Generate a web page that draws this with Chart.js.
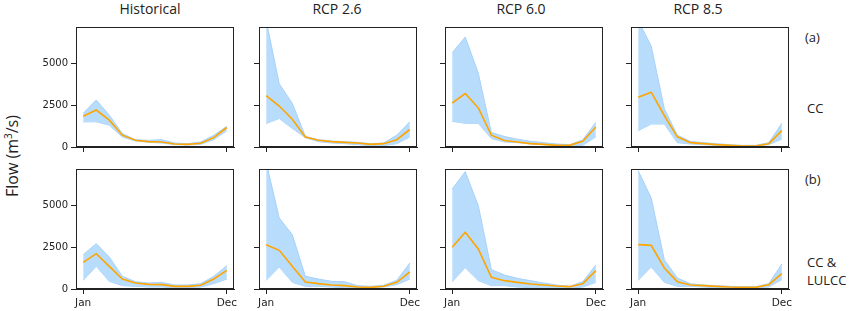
<!DOCTYPE html>
<html>
<head>
<meta charset="utf-8">
<script src="https://cdn.jsdelivr.net/npm/chart.js@4.4.1/dist/chart.umd.min.js"></script>
<style>
  body { margin: 0; background: #fff; width: 849px; height: 311px; position: relative; overflow: hidden;
         font-family: 'Open Sans', sans-serif; color: #222; }
  canvas { position: absolute; }
  .t { position: absolute; font-size: 14px; white-space: nowrap; transform: translate(-50%, -50%); }
  .r { position: absolute; font-size: 13px; white-space: nowrap; transform: translateY(-50%); }
  .ylab { position: absolute; font-size: 16px; white-space: nowrap; left: 12px; top: 156px;
          transform: translate(-50%, -50%) rotate(-90deg); }
</style>
</head>
<body>

<div class="t" style="left:150px;top:8px">Historical</div>
<div class="t" style="left:337px;top:8px">RCP 2.6</div>
<div class="t" style="left:521px;top:8px">RCP 6.0</div>
<div class="t" style="left:698px;top:8px">RCP 8.5</div>
<div class="ylab">Flow (m<sup style="font-size:10px">3</sup>/s)</div>
<div class="r" style="left:805px;top:37px">(a)</div>
<div class="r" style="left:807px;top:108px">CC</div>
<div class="r" style="left:805px;top:179px">(b)</div>
<div class="r" style="left:807px;top:262px">CC &amp;</div>
<div class="r" style="left:807px;top:280px">LULCC</div>

<canvas id="c1"></canvas><canvas id="c2"></canvas><canvas id="c3"></canvas><canvas id="c4"></canvas>
<canvas id="c5"></canvas><canvas id="c6"></canvas><canvas id="c7"></canvas><canvas id="c8"></canvas>

<script>
const months = ['Jan', 'Feb', 'Mar', 'Apr', 'May', 'Jun', 'Jul', 'Aug', 'Sep', 'Oct', 'Nov', 'Dec'];
const yTicks = [0, 2500, 5000];

// (a) CC
const histCC_mean = [1850, 2220, 1610, 710, 400, 320, 300, 180, 160, 220, 560, 1170];
const histCC_hi   = [2020, 2820, 1910, 810, 440, 400, 440, 240, 200, 300, 700, 1250];
const histCC_lo   = [1510, 1510, 1310, 600, 360, 280, 240, 140, 120, 160, 440, 970];

const rcp26CC_mean = [3080, 2460, 1670, 600, 400, 320, 280, 240, 160, 200, 440, 1050];
const rcp26CC_hi   = [7600, 3790, 2620, 640, 440, 360, 320, 280, 200, 240, 710, 1510];
const rcp26CC_lo   = [1410, 1710, 1110, 560, 320, 240, 200, 140, 80, 80, 200, 600];

const rcp60CC_mean = [2640, 3210, 2350, 710, 390, 300, 200, 160, 100, 100, 340, 1200];
const rcp60CC_hi   = [5650, 6600, 4430, 870, 630, 470, 340, 260, 180, 140, 430, 1480];
const rcp60CC_lo   = [1540, 1420, 1420, 510, 300, 260, 180, 140, 100, 60, 100, 610];

const rcp85CC_mean = [2980, 3290, 1890, 610, 260, 200, 140, 100, 60, 60, 200, 980];
const rcp85CC_hi   = [7600, 6050, 2300, 710, 340, 260, 200, 140, 100, 100, 260, 1420];
const rcp85CC_lo   = [980, 1380, 1380, 260, 180, 140, 100, 60, 40, 40, 140, 470];

// (b) CC & LULCC
const histLU_mean = [1600, 2120, 1360, 600, 360, 280, 260, 160, 160, 220, 600, 1120];
const histLU_hi   = [2060, 2720, 1920, 760, 440, 360, 400, 240, 240, 320, 760, 1400];
const histLU_lo   = [520, 1360, 460, 200, 160, 120, 120, 80, 80, 120, 320, 600];

const rcp26LU_mean = [2660, 2320, 1360, 420, 320, 240, 200, 120, 100, 160, 400, 1020];
const rcp26LU_hi   = [7600, 4260, 3260, 760, 600, 460, 440, 200, 160, 220, 520, 1560];
const rcp26LU_lo   = [520, 1320, 400, 160, 160, 120, 80, 80, 80, 120, 260, 600];

const rcp60LU_mean = [2500, 3400, 2400, 700, 500, 400, 300, 240, 180, 140, 320, 1100];
const rcp60LU_hi   = [6000, 7040, 5000, 1160, 840, 640, 500, 360, 240, 160, 440, 1440];
const rcp60LU_lo   = [440, 1280, 500, 200, 200, 120, 80, 60, 40, 40, 120, 400];

const rcp85LU_mean = [2660, 2620, 1260, 440, 240, 200, 160, 120, 100, 100, 260, 920];
const rcp85LU_hi   = [7100, 5460, 1760, 660, 320, 240, 200, 160, 140, 140, 320, 1500];
const rcp85LU_lo   = [520, 1320, 400, 160, 160, 120, 80, 80, 60, 60, 120, 560];

const AXW = 45, PADT = 10, PADR = 15, AXH = 24, BOXW = 158, BOXH = 120;

const boxPlugin = {
  id: 'box',
  afterDraw(chart) {
    const a = chart.chartArea, ctx = chart.ctx;
    ctx.save();
    ctx.strokeStyle = '#222';
    ctx.lineWidth = 1;
    ctx.strokeRect(Math.round(a.left) + 0.5, Math.round(a.top) + 0.5,
                   Math.round(a.right - a.left) - 1, Math.round(a.bottom - a.top) - 1);
    ctx.restore();
  }
};

const pts = arr => arr.map((v, i) => ({ x: i, y: v }));

function panel(id, left, top, mean, lo, hi, showY, showX) {
  const cv = document.getElementById(id);
  cv.width = AXW + BOXW + PADR;
  cv.height = PADT + BOXH + AXH;
  cv.style.left = (left - AXW) + 'px';
  cv.style.top = (top - PADT) + 'px';
  new Chart(cv, {
    type: 'line',
    data: {
      datasets: [
        { data: pts(mean), borderColor: '#ffa500', borderWidth: 1.6, pointRadius: 0, fill: false },
        { data: pts(hi), borderColor: '#a6d1fa', borderWidth: 1, pointRadius: 0, fill: '+1', backgroundColor: '#b8dcfc' },
        { data: pts(lo), borderColor: '#a6d1fa', borderWidth: 1, pointRadius: 0, fill: false }
      ]
    },
    options: {
      responsive: false,
      animation: false,
      events: [],
      layout: { padding: { top: PADT, right: PADR, left: 0, bottom: 0 } },
      plugins: { legend: { display: false }, tooltip: { enabled: false } },
      scales: {
        x: {
          type: 'linear', min: -0.55, max: 11.55,
          afterBuildTicks: s => { s.ticks = [{ value: 0 }, { value: 11 }]; },
          afterFit: s => { s.height = AXH; },
          grid: { drawOnChartArea: false, tickLength: 5, color: '#222' },
          border: { color: '#222' },
          ticks: {
            padding: 3, color: '#222', maxRotation: 0, autoSkip: false,
            font: { family: 'DejaVu Sans', size: 10.5 },
            callback: v => showX ? months[v] : ''
          }
        },
        y: {
          min: 0, max: 7200,
          afterBuildTicks: s => { s.ticks = yTicks.map(v => ({ value: v })); },
          afterFit: s => { s.width = AXW; },
          grid: { drawOnChartArea: false, tickLength: 5, color: '#222' },
          border: { color: '#222' },
          ticks: {
            padding: 3, color: '#222', autoSkip: false,
            font: { family: 'DejaVu Sans', size: 10 },
            callback: v => showY ? String(v) : ''
          }
        }
      }
    },
    plugins: [boxPlugin]
  });
}

const lefts = [76, 259, 445, 631];
const tops = [27, 169];

panel('c1', lefts[0], tops[0], histCC_mean, histCC_lo, histCC_hi, true, false);
panel('c2', lefts[1], tops[0], rcp26CC_mean, rcp26CC_lo, rcp26CC_hi, false, false);
panel('c3', lefts[2], tops[0], rcp60CC_mean, rcp60CC_lo, rcp60CC_hi, false, false);
panel('c4', lefts[3], tops[0], rcp85CC_mean, rcp85CC_lo, rcp85CC_hi, false, false);
panel('c5', lefts[0], tops[1], histLU_mean, histLU_lo, histLU_hi, true, true);
panel('c6', lefts[1], tops[1], rcp26LU_mean, rcp26LU_lo, rcp26LU_hi, false, true);
panel('c7', lefts[2], tops[1], rcp60LU_mean, rcp60LU_lo, rcp60LU_hi, false, true);
panel('c8', lefts[3], tops[1], rcp85LU_mean, rcp85LU_lo, rcp85LU_hi, false, true);
</script>
</body>
</html>
